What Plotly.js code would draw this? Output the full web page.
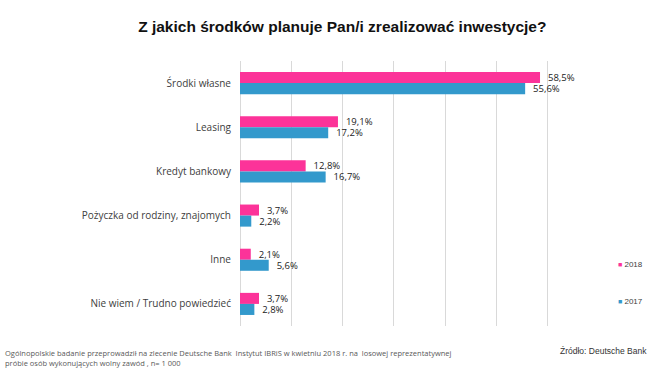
<!DOCTYPE html>
<html><head><meta charset="utf-8">
<script src="https://cdn.plot.ly/plotly-3.0.1.min.js"></script>
<style>html,body{margin:0;padding:0;background:#fff}#chart{width:657px;height:386px}</style>
</head><body><div id="chart"></div>
<script>
const categories = ["Środki własne","Leasing","Kredyt bankowy","Pożyczka od rodziny, znajomych","Inne","Nie wiem / Trudno powiedzieć"];
const values2018 = [58.5,19.1,12.8,3.7,2.1,3.7];
const values2017 = [55.6,17.2,16.7,2.2,5.6,2.8];
const seriesNames = ['2018','2017'];
const seriesColors = ['#fc3399','#3399cc'];
const xTicks = [0,10,20,30,40,50,60,70];
const fmt = v => v.toFixed(1).replace('.', ',') + '%';

const labelFont = {family:"Open Sans, Liberation Sans, sans-serif", size:9.5, color:"#222"};
const barTrace = (vals, i) => ({type:'bar', orientation:'h', name:seriesNames[i], y:categories, x:vals,
   marker:{color:seriesColors[i]}, text:vals.map(fmt), texttemplate:'\u00a0\u00a0%{text}', textposition:'outside',
   constraintext:'none', textfont:labelFont, cliponaxis:false, showlegend:false});
const traces = [barTrace(values2018,0), barTrace(values2017,1)];

const PW = 407, PH = 265;
const legendYpx = [264, 301];
const legendAnns = seriesNames.map((n, i) => ({
  xref:'paper', yref:'paper', x:(616-240)/PW, y:(326-legendYpx[i])/PH, xanchor:'left', yanchor:'middle', showarrow:false,
  text:'<span style="color:' + seriesColors[i] + ';font-size:7px">■</span> ' + n,
  font:{family:'Liberation Sans, Arial, sans-serif', size:8, color:'#404040'}
}));
const layout = {
  width:657, height:386,
  margin:{l:240, r:10, t:61, b:60, autoexpand:false},
  paper_bgcolor:'#fff', plot_bgcolor:'#fff',
  barmode:'group', bargap:0.5, bargroupgap:0,
  title:{text:'<b>Z jakich środków planuje Pan/i zrealizować inwestycje?</b>',
    x:0.521, xanchor:'center', y:0.93, yanchor:'middle',
    font:{family:'Liberation Sans, Arial, sans-serif', size:15.5, color:'#111'}},
  xaxis:{domain:[0, 359/PW], range:[0,70], tickvals:xTicks, showticklabels:false, showgrid:true,
    gridcolor:'#d9d9d9', gridwidth:1, zeroline:true, zerolinecolor:'#d9d9d9', showline:false, automargin:false},
  yaxis:{autorange:'reversed', type:'category', showgrid:false, showline:false, ticks:'',
    ticklabelstandoff:8,
    tickfont:{family:'Open Sans, Liberation Sans, sans-serif', size:10, color:'#404040'}, automargin:false},
  showlegend:false,
  annotations:[
    ...legendAnns,
    {xref:'paper', yref:'paper', x:(3-240)/PW, y:-0.075, xanchor:'left', yanchor:'top', align:'left', showarrow:false,
     text:'Ogólnopolskie badanie przeprowadził na zlecenie Deutsche Bank  Instytut IBRiS w kwietniu 2018 r. na  losowej reprezentatywnej<br>próbie osób wykonujących wolny zawód , n= 1 000',
     font:{family:'Open Sans, Liberation Sans, sans-serif', size:7.5, color:'#595959'}},
    {xref:'paper', yref:'paper', x:(649-240)/PW, y:-0.068, xanchor:'right', yanchor:'top', showarrow:false,
     text:'Źródło: Deutsche Bank',
     font:{family:'Liberation Sans, Arial, sans-serif', size:8.5, color:'#333'}}
  ]
};
Plotly.newPlot('chart', traces, layout, {displayModeBar:false, staticPlot:true});
</script></body></html>
